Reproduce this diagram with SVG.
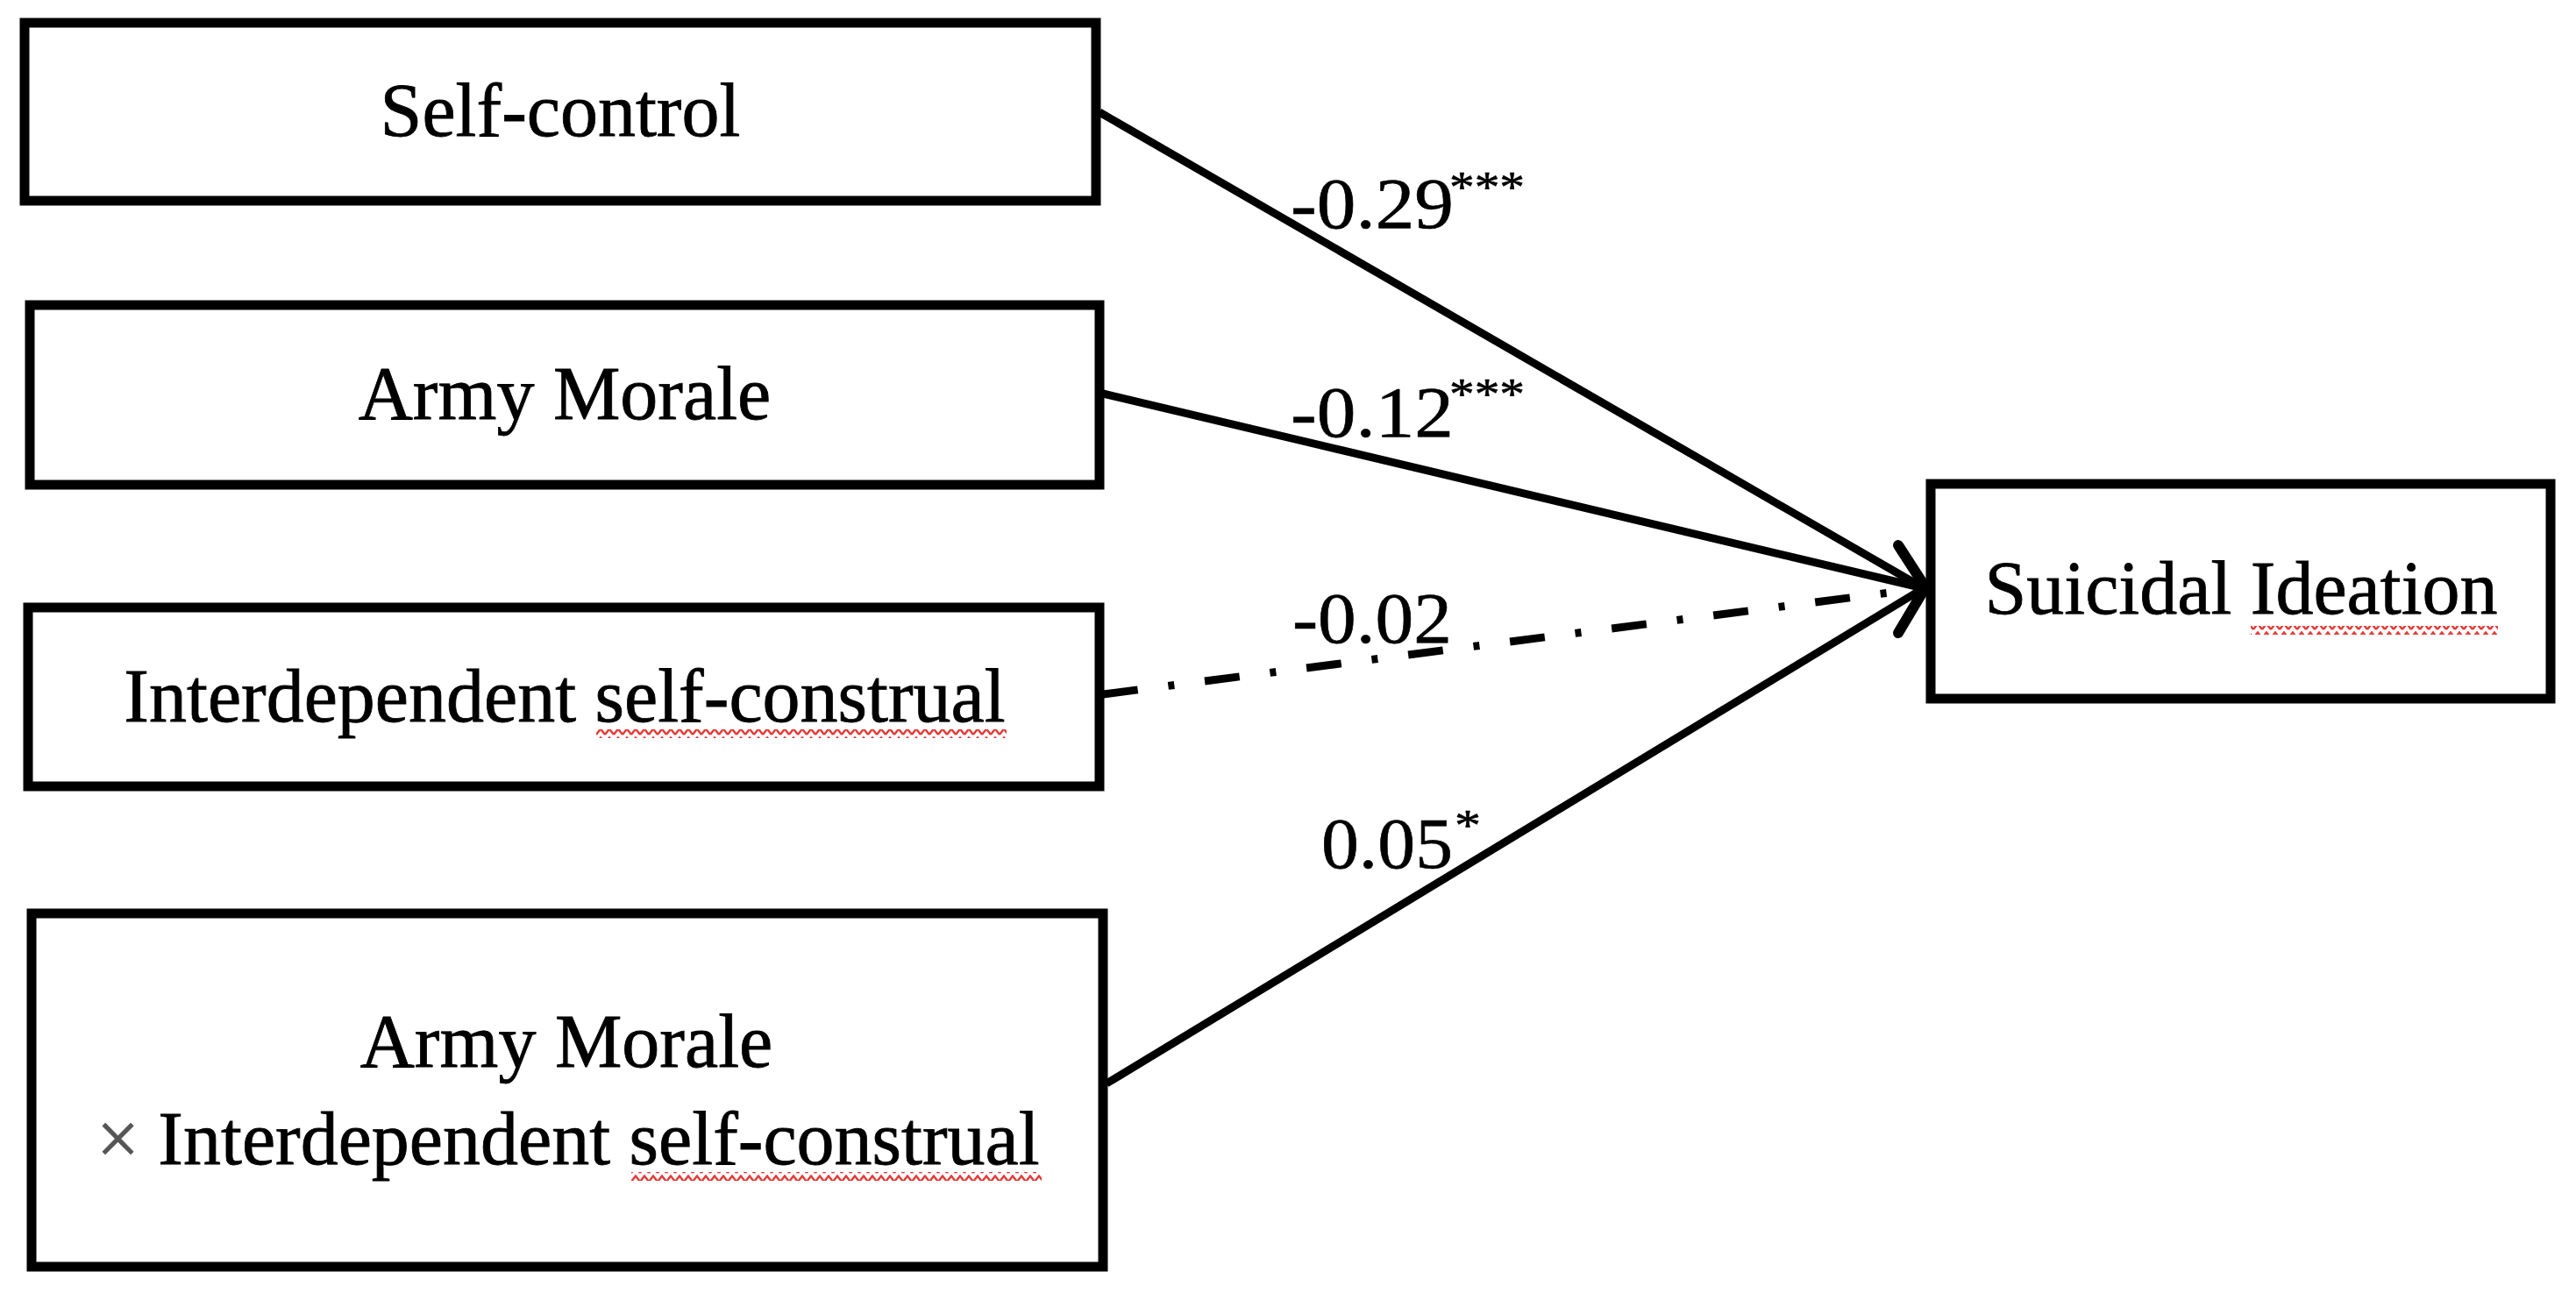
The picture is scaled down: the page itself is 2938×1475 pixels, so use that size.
<svg xmlns="http://www.w3.org/2000/svg" width="2938" height="1475" viewBox="0 0 2938 1475">
<style>
.box{fill:#fff;stroke:#000;stroke-width:11}
.t{font-family:"Liberation Serif","Times New Roman",serif;font-size:86px;fill:#000;stroke:#000;stroke-width:0.8;text-anchor:middle}
.lbl{font-family:"Liberation Serif","Times New Roman",serif;font-size:82px;fill:#000;stroke:#000;stroke-width:0.6}
.sup{font-family:"Liberation Serif","Times New Roman",serif;font-size:50px;fill:#000;stroke:#000;stroke-width:0.6}
.edge{fill:none;stroke:#000;stroke-width:9}
.dd{stroke-dasharray:40 35 7 35}
.sq{fill:url(#squig)}
</style>
<defs>
<pattern id="squig" patternUnits="userSpaceOnUse" x="0" y="0" width="10" height="10">
<polyline points="0,8 5,1.5 10,8" fill="none" stroke="#e53935" stroke-width="2.4"/>
</pattern>
</defs>
<rect width="2938" height="1475" fill="#fff"/>
<g id="connectors">
<line class="edge" x1="1254" y1="128" x2="2194" y2="671"/>
<line class="edge" x1="1254" y1="448" x2="2194" y2="671"/>
<line class="edge dd" x1="1258" y1="792" x2="2194" y2="671"/>
<line class="edge" x1="1262" y1="1236" x2="2194" y2="671"/>
<polyline points="2165,622 2196,670 2165,722" fill="none" stroke="#000" stroke-width="12" stroke-linecap="round" stroke-linejoin="round"/>
<g id="label-sc">
<text class="lbl" x="1472" y="260" textLength="186" lengthAdjust="spacingAndGlyphs">-0.29</text>
<text class="sup" x="1653" y="230" textLength="86" lengthAdjust="spacingAndGlyphs">***</text>
</g>
<g id="label-am">
<text class="lbl" x="1472" y="498" textLength="186" lengthAdjust="spacingAndGlyphs">-0.12</text>
<text class="sup" x="1653" y="466" textLength="86" lengthAdjust="spacingAndGlyphs">***</text>
</g>
<g id="label-isc">
<text class="lbl" x="1474" y="733" textLength="182" lengthAdjust="spacingAndGlyphs">-0.02</text>
</g>
<g id="label-int">
<text class="lbl" x="1507" y="990" textLength="150" lengthAdjust="spacingAndGlyphs">0.05</text>
<text class="sup" x="1659" y="958" textLength="30" lengthAdjust="spacingAndGlyphs">*</text>
</g>
</g>
<g id="node-self-control">
<rect class="box" x="28" y="26" width="1222" height="203"/>
<text class="t" x="639" y="155">Self-control</text>
</g>
<g id="node-army-morale">
<rect class="box" x="34" y="348" width="1220" height="205"/>
<text class="t" x="644" y="478">Army Morale</text>
</g>
<g id="node-interdependent">
<rect class="box" x="32" y="693" width="1222" height="204"/>
<text class="t" x="644" y="823">Interdependent self-construal</text>
<rect class="sq" x="680" y="832" width="468" height="10"/>
</g>
<g id="node-interaction">
<rect class="box" x="36" y="1042" width="1222" height="403"/>
<text class="t" x="646" y="1217">Army Morale</text>
<text class="t" x="648" y="1328"><tspan fill="#555" stroke="#555">×</tspan> Interdependent self-construal</text>
<rect class="sq" x="720" y="1337" width="468" height="10"/>
</g>
<g id="node-suicidal-ideation">
<rect class="box" x="2202" y="552" width="707" height="245"/>
<text class="t" x="2556" y="700">Suicidal Ideation</text>
<rect class="sq" x="2567" y="714" width="282" height="10"/>
</g>
</svg>
